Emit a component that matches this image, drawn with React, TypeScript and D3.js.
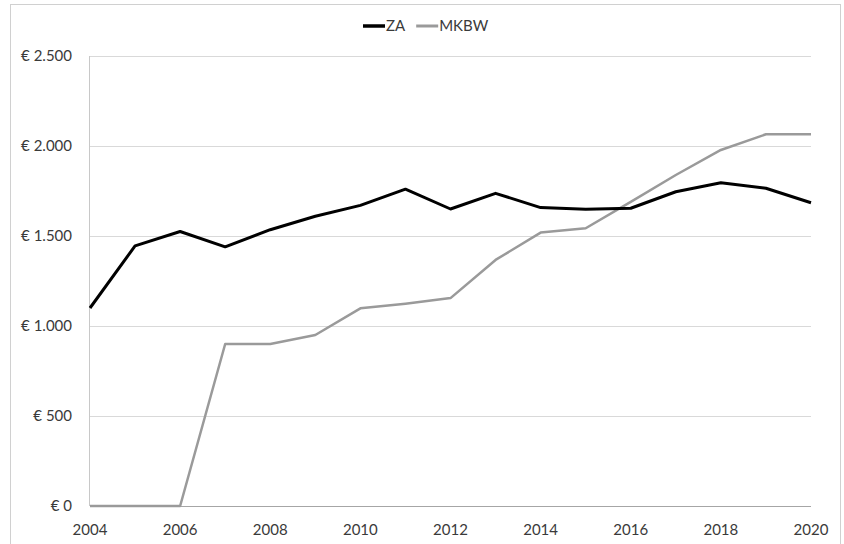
import React, { useRef, useEffect } from "react";
import * as d3 from "d3";

// years on the x axis
const years = [2004, 2005, 2006, 2007, 2008, 2009, 2010, 2011, 2012, 2013, 2014, 2015, 2016, 2017, 2018, 2019, 2020];

// series values (euro)
const zaValues = [1100, 1445, 1525, 1440, 1535, 1610, 1670, 1760, 1650, 1737, 1658, 1648, 1654, 1746, 1796, 1765, 1685];
const mkbwValues = [0, 0, 0, 900, 900, 950, 1098, 1124, 1155, 1367, 1519, 1543, 1690, 1839, 1978, 2065, 2065];

const yTicks = [0, 500, 1000, 1500, 2000, 2500];
const xTicks = [2004, 2006, 2008, 2010, 2012, 2014, 2016, 2018, 2020];

const series = [
  { name: "ZA", values: zaValues, color: "#000000", width: 3 },
  { name: "MKBW", values: mkbwValues, color: "#9a9a9a", width: 2.5 },
];

const formatEuro = (v: number) =>
  "€ " + (v >= 1000 ? Math.floor(v / 1000) + "." + String(v % 1000).padStart(3, "0") : String(v));

const App = () => {
  const svgRef = useRef<SVGSVGElement>(null);

  useEffect(() => {
    const width = 844;
    const height = 544;
    const margin = { top: 56, right: 33, bottom: 38, left: 90 };
    const font = "Lato, 'Open Sans', sans-serif";

    const svg = d3.select(svgRef.current);
    svg.selectAll("*").remove();

    // outer chart border
    svg
      .append("rect")
      .attr("x", 10.5)
      .attr("y", 4.5)
      .attr("width", 830)
      .attr("height", 560)
      .attr("fill", "#fff")
      .attr("stroke", "#d0d0d0");

    const x = d3
      .scaleLinear()
      .domain([2004, 2020])
      .range([margin.left, width - margin.right]);

    const y = d3
      .scaleLinear()
      .domain([0, 2500])
      .range([height - margin.bottom, margin.top]);

    // gridlines
    svg
      .append("g")
      .selectAll("line")
      .data(yTicks.filter((t) => t > 0))
      .join("line")
      .attr("x1", x(2004))
      .attr("x2", x(2020))
      .attr("y1", (d) => Math.round(y(d)) + 0.5)
      .attr("y2", (d) => Math.round(y(d)) + 0.5)
      .attr("stroke", "#d9d9d9")
      .attr("stroke-width", 1);

    // axis lines
    svg
      .append("line")
      .attr("x1", x(2004))
      .attr("x2", x(2020))
      .attr("y1", Math.round(y(0)) + 0.5)
      .attr("y2", Math.round(y(0)) + 0.5)
      .attr("stroke", "#a6a6a6");
    svg
      .append("line")
      .attr("x1", Math.round(x(2004)) - 0.5)
      .attr("x2", Math.round(x(2004)) - 0.5)
      .attr("y1", y(2500))
      .attr("y2", y(0))
      .attr("stroke", "#c8c8c8");

    // y labels
    svg
      .append("g")
      .selectAll("text")
      .data(yTicks)
      .join("text")
      .attr("x", 72)
      .attr("y", (d) => y(d))
      .attr("dy", "0.35em")
      .attr("text-anchor", "end")
      .attr("font-family", font)
      .attr("font-size", 15)
      .attr("fill", "#3a3a3a")
      .text((d) => formatEuro(d));

    // x labels
    svg
      .append("g")
      .selectAll("text")
      .data(xTicks)
      .join("text")
      .attr("x", (d) => x(d))
      .attr("y", 530)
      .attr("dy", "0.35em")
      .attr("text-anchor", "middle")
      .attr("font-family", font)
      .attr("font-size", 15)
      .attr("fill", "#3a3a3a")
      .text((d) => String(d));

    // lines (MKBW first so ZA sits on top)
    const line = d3
      .line<number>()
      .x((_, i) => x(years[i]))
      .y((d) => y(d));

    [...series].reverse().forEach((s) => {
      svg
        .append("path")
        .datum(s.values)
        .attr("d", line)
        .attr("fill", "none")
        .attr("stroke", s.color)
        .attr("stroke-width", s.width)
        .attr("stroke-linejoin", "round");
    });

    // legend
    const legend = svg.append("g").attr("transform", "translate(363,26)");
    let lx = 0;
    series.forEach((s) => {
      legend
        .append("line")
        .attr("x1", lx)
        .attr("x2", lx + 22)
        .attr("y1", 0)
        .attr("y2", 0)
        .attr("stroke", s.color)
        .attr("stroke-width", s.width + 0.5);
      const t = legend
        .append("text")
        .attr("x", lx + 23)
        .attr("y", 0)
        .attr("dy", "0.35em")
        .attr("font-family", font)
        .attr("font-size", 15)
        .attr("fill", "#3a3a3a")
        .text(s.name);
      const w = (t.node() as SVGTextElement).getComputedTextLength();
      lx += 23 + w + 11;
    });
  }, []);

  return (
    <svg
      ref={svgRef}
      width={844}
      height={544}
      style={{ position: "fixed", left: 0, top: 0, background: "#fff" }}
    ></svg>
  );
};

export default App;
